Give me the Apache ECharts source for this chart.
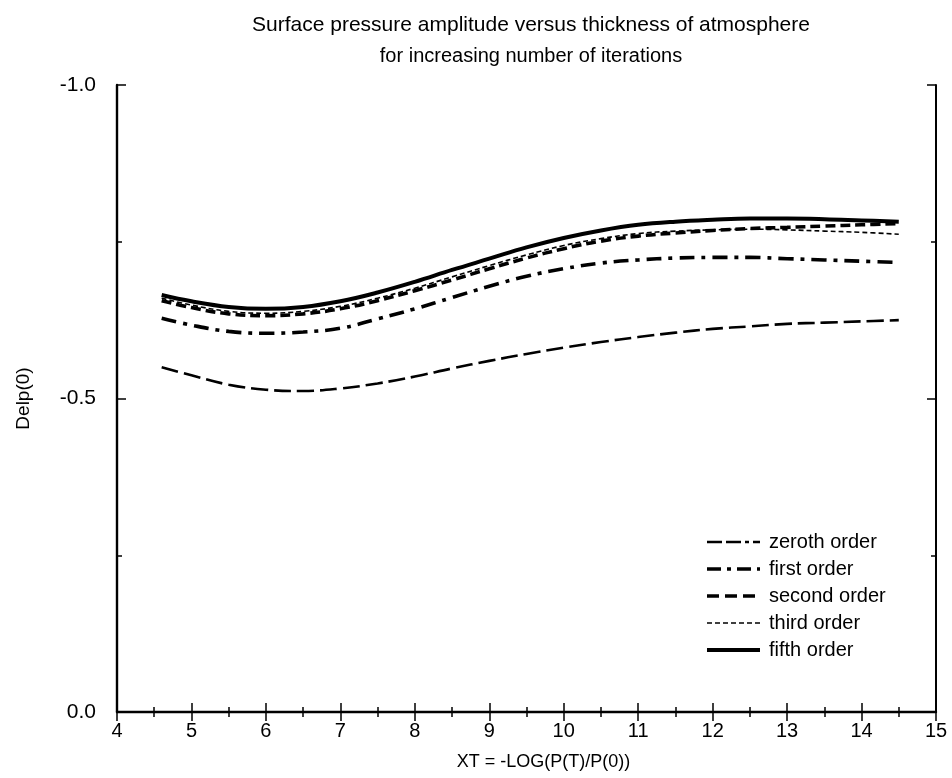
<!DOCTYPE html>
<html>
<head>
<meta charset="utf-8">
<script src="https://cdn.jsdelivr.net/npm/echarts@6/dist/echarts.min.js"></script>
<style>html,body{margin:0;padding:0;background:#fff}#c{width:952px;height:778px}</style>
</head>
<body>
<div id="c"></div>
<script>
var xValues = [4.6, 5.0, 5.5, 6.0, 6.5, 7.0, 7.5, 8.0, 8.5, 9.0, 9.5, 10.0, 10.5, 11.0, 11.5, 12.0, 12.5, 13.0, 13.5, 14.0, 14.5];
var zeroth = [-0.550, -0.537, -0.522, -0.514, -0.512, -0.516, -0.524, -0.535, -0.548, -0.560, -0.571, -0.581, -0.590, -0.598, -0.605, -0.611, -0.615, -0.619, -0.621, -0.623, -0.625];
var first  = [-0.628, -0.617, -0.607, -0.604, -0.606, -0.612, -0.627, -0.643, -0.661, -0.679, -0.695, -0.707, -0.716, -0.721, -0.724, -0.725, -0.725, -0.723, -0.721, -0.719, -0.717];
var second = [-0.656, -0.645, -0.635, -0.632, -0.635, -0.643, -0.656, -0.672, -0.689, -0.707, -0.724, -0.739, -0.751, -0.759, -0.764, -0.768, -0.771, -0.773, -0.775, -0.777, -0.779];
var third  = [-0.660, -0.649, -0.639, -0.636, -0.639, -0.647, -0.660, -0.676, -0.694, -0.712, -0.729, -0.744, -0.755, -0.763, -0.767, -0.769, -0.770, -0.769, -0.767, -0.765, -0.762];
var fifth  = [-0.665, -0.655, -0.646, -0.643, -0.646, -0.655, -0.669, -0.686, -0.705, -0.723, -0.741, -0.756, -0.768, -0.777, -0.782, -0.785, -0.787, -0.787, -0.786, -0.784, -0.782];
var seriesNames = ['zeroth order', 'first order', 'second order', 'third order', 'fifth order'];
var titleText = 'Surface pressure amplitude versus thickness of atmosphere';
var subtitleText = 'for increasing number of iterations';
var xAxisName = 'XT = -LOG(P(T)/P(0))';
var yAxisName = 'Delp(0)';

function pairs(ys) { return xValues.map(function (x, i) { return [x, ys[i]]; }); }
var FONT = '"Liberation Sans", Arial, Helvetica, sans-serif';
var styles = [
  { width: 2.6, type: [17, 6] },
  { width: 3.6, type: [15, 7, 4, 7] },
  { width: 3.6, type: [10, 5] },
  { width: 1.6, type: [5, 3] },
  { width: 4, type: 'solid' }
];
var legendStyles = [
  { width: 2.6, type: [15, 4, 15, 4, 4, 4] },
  { width: 3.6, type: [14, 6, 4, 6] },
  { width: 3.6, type: [12, 6] },
  { width: 1.6, type: [5, 3] },
  { width: 4, type: 'solid' }
];
var dataSets = [zeroth, first, second, third, fifth];

var chart = echarts.init(document.getElementById('c'), null, { renderer: 'canvas' });
var axisCommon = {
  type: 'value',
  axisLine: { show: true, lineStyle: { color: '#000', width: 2.4 } },
  splitLine: { show: false },
  axisTick: { show: true, inside: true, length: 9, lineStyle: { color: '#000', width: 1.5 } },
  minorTick: { show: true, splitNumber: 2, length: 5, lineStyle: { color: '#000', width: 1.5 } }
};
var option = {
  backgroundColor: '#fff',
  animation: false,
  title: {
    text: titleText,
    subtext: subtitleText,
    left: 526,
    textAlign: 'center',
    top: 10,
    itemGap: 10,
    textStyle: { fontFamily: FONT, fontSize: 21, fontWeight: 'normal', color: '#000' },
    subtextStyle: { fontFamily: FONT, fontSize: 20, color: '#000' }
  },
  grid: { left: 117, right: 16, top: 85, bottom: 66 },
  legend: {
    orient: 'vertical',
    left: 705,
    top: 532,
    padding: 0,
    itemWidth: 53,
    itemHeight: 14,
    itemGap: 7,
    data: seriesNames.map(function (n, i) {
      return { name: n, lineStyle: { color: '#000', width: legendStyles[i].width, type: legendStyles[i].type, cap: 'butt' } };
    }),
    itemStyle: { opacity: 0 },
    textStyle: { fontFamily: FONT, fontSize: 20, color: '#000', padding: [0, 0, 0, 4] }
  },
  xAxis: [
    Object.assign({}, axisCommon, {
      position: 'bottom', min: 4, max: 15, interval: 1,
      name: xAxisName, nameLocation: 'middle', nameGap: 41,
      nameTextStyle: { fontFamily: FONT, fontSize: 18, color: '#000', padding: [0, 0, 0, 34] },
      axisLabel: { margin: 9, fontFamily: FONT, fontSize: 20, color: '#000' }
    }),
    Object.assign({}, axisCommon, {
      position: 'top', min: 4, max: 15, interval: 1,
      axisLine: { show: true, lineStyle: { color: '#000', width: 2 } },
      axisLabel: { show: false }
    })
  ],
  yAxis: [
    Object.assign({}, axisCommon, {
      position: 'left', min: -1, max: 0, interval: 0.5, inverse: true,
      name: yAxisName, nameLocation: 'middle', nameGap: 84,
      nameTextStyle: { fontFamily: FONT, fontSize: 19, color: '#000' },
      axisLabel: { margin: 21, fontFamily: FONT, fontSize: 21, color: '#000',
        formatter: function (v) { return (Math.abs(v) < 1e-9 ? 0 : v).toFixed(1); } }
    }),
    Object.assign({}, axisCommon, {
      position: 'right', min: -1, max: 0, interval: 0.5, inverse: true,
      axisLine: { show: true, lineStyle: { color: '#000', width: 2 } },
      axisLabel: { show: false }
    })
  ],
  series: seriesNames.map(function (name, i) {
    return {
      name: name,
      type: 'line',
      smooth: 0.4,
      symbol: 'none',
      data: pairs(dataSets[i]),
      lineStyle: { color: '#000', width: styles[i].width, type: styles[i].type, cap: 'butt' },
      itemStyle: { color: '#000' }
    };
  })
};
chart.setOption(option);
</script>
</body>
</html>
